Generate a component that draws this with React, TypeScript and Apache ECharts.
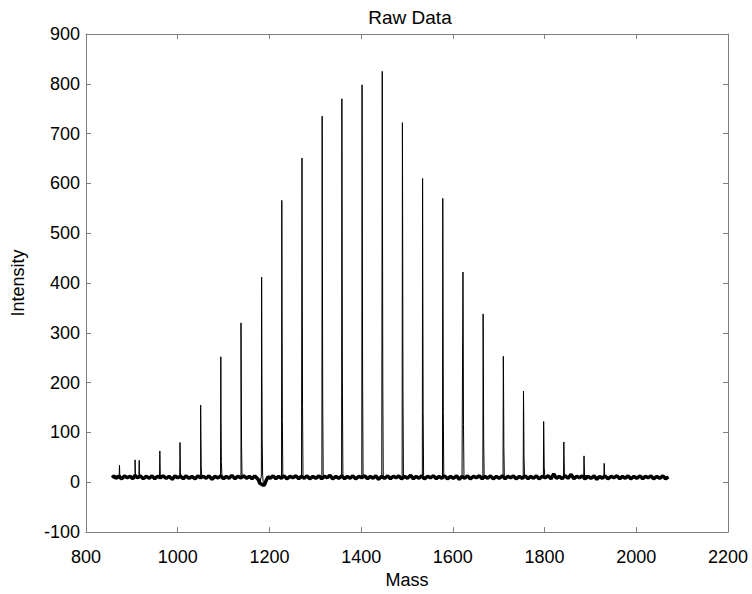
import React, { useEffect, useRef } from "react";
import * as echarts from "echarts";

// Peak centres (Mass) and apex intensities
const peakMass = [873, 907, 916, 961, 1005, 1050, 1094, 1138, 1183, 1227, 1271, 1315, 1358, 1402, 1446, 1490, 1534, 1578, 1622, 1666, 1710, 1754, 1798, 1842, 1886, 1930];
const peakHeight = [34, 45, 44, 63, 80, 155, 252, 320, 412, 566, 651, 735, 770, 798, 825, 722, 610, 570, 422, 338, 253, 183, 122, 81, 53, 38];
// secondary (isotope) apex just to the right of each main spike
const peakShoulder = [20, 25, 24, 40, 50, 95, 120, 210, 255, 355, 435, 465, 505, 575, 575, 530, 405, 400, 330, 250, 210, 140, 90, 55, 38, 25];

// Noisy baseline, [mass, intensity]
const baseline: [number, number][] = [
  [857, 9], [861, 13], [865, 8], [870, 12], [878, 7], [884, 13], [890, 9], [896, 12], [902, 7], [907, 14], [912, 9],
  [918, 13], [925, 7], [931, 12], [938, 8], [944, 13], [950, 7], [956, 12], [962, 9], [968, 13], [975, 8], [981, 12],
  [988, 6], [994, 13], [1000, 9], [1006, 12], [1012, 7], [1018, 13], [1025, 8], [1031, 12], [1038, 7], [1044, 13],
  [1050, 9], [1056, 12], [1062, 8], [1068, 13], [1075, 6], [1081, 12], [1088, 9], [1094, 13], [1100, 7], [1106, 12],
  [1112, 8], [1118, 14], [1125, 7], [1131, 12], [1138, 9], [1144, 13], [1150, 8], [1156, 12], [1162, 7], [1168, 13],
  [1173, 8], [1176, 5], [1179, -2], [1187, -6], [1190, -4], [1193, 4], [1197, 11], [1202, 8], [1208, 13], [1214, 7],
  [1220, 12], [1226, 8], [1232, 13], [1238, 7], [1245, 12], [1251, 9], [1258, 13], [1264, 7], [1270, 12], [1276, 8],
  [1282, 13], [1288, 7], [1295, 12], [1301, 8], [1308, 13], [1314, 7], [1320, 12], [1326, 9], [1332, 14], [1338, 7],
  [1345, 12], [1351, 8], [1358, 13], [1364, 7], [1370, 12], [1376, 8], [1382, 13], [1388, 7], [1395, 12], [1401, 9],
  [1408, 13], [1414, 7], [1420, 12], [1426, 8], [1432, 13], [1438, 6], [1445, 12], [1451, 8], [1458, 13], [1464, 7],
  [1470, 12], [1476, 9], [1482, 13], [1488, 7], [1495, 12], [1501, 8], [1508, 14], [1514, 7], [1520, 12], [1526, 8],
  [1532, 13], [1538, 7], [1545, 12], [1551, 9], [1558, 13], [1564, 7], [1570, 12], [1576, 8], [1582, 13], [1588, 7],
  [1595, 12], [1601, 8], [1608, 13], [1614, 6], [1620, 12], [1626, 8], [1632, 13], [1638, 7], [1645, 12], [1651, 9],
  [1658, 13], [1664, 7], [1670, 12], [1676, 8], [1682, 13], [1688, 7], [1695, 12], [1701, 8], [1708, 13], [1714, 7],
  [1720, 12], [1726, 9], [1732, 13], [1738, 7], [1745, 12], [1751, 8], [1758, 13], [1764, 7], [1770, 12], [1776, 8],
  [1782, 13], [1788, 7], [1795, 12], [1801, 9], [1808, 13], [1814, 7], [1820, 17], [1826, 8], [1832, 12], [1838, 7],
  [1845, 13], [1851, 8], [1858, 16], [1864, 7], [1870, 12], [1876, 9], [1882, 13], [1888, 7], [1895, 12], [1901, 8],
  [1908, 13], [1914, 6], [1920, 12], [1926, 8], [1932, 13], [1938, 7], [1945, 12], [1951, 9], [1958, 13], [1964, 7],
  [1970, 12], [1976, 8], [1982, 13], [1988, 7], [1995, 12], [2001, 8], [2008, 13], [2014, 7], [2020, 12], [2026, 9],
  [2032, 13], [2038, 7], [2045, 12], [2051, 8], [2058, 13], [2064, 7], [2070, 11],
];

const xTicks = { min: 800, max: 2200, interval: 200 };
const yTicks = { min: -100, max: 900, interval: 100 };

export default function App() {
  const ref = useRef<HTMLDivElement>(null);
  useEffect(() => {
    if (!ref.current) return;
    const chart = echarts.init(ref.current, undefined, { renderer: "svg" });

    const pts: [number, number][] = [...baseline];
    peakMass.forEach((m, i) => {
      const h = peakHeight[i];
      const s = peakShoulder[i];
      pts.push([m - 0.6, 12]);
      pts.push([m, h]);
      pts.push([m + 0.5, s]);
      pts.push([m + 1.2, s * 0.35]);
      pts.push([m + 2.2, 14]);
    });
    pts.sort((a, b) => a[0] - b[0]);

    const font = "'Liberation Sans', Arial, Helvetica, sans-serif";
    const axisGrey = "#7f7f7f";
    const plain = (v: number) => String(v);

    chart.setOption({
      animation: false,
      backgroundColor: "#ffffff",
      title: {
        text: "Raw Data",
        left: 405,
        textAlign: "center",
        top: 3,
        textStyle: { fontFamily: font, fontSize: 19, fontWeight: "normal", color: "#000" },
      },
      grid: { left: 86, right: 24, top: 34, bottom: 53, containLabel: false },
      xAxis: [
        {
          type: "value",
          ...xTicks,
          name: "Mass",
          nameLocation: "middle",
          nameGap: 36,
          nameTextStyle: { fontFamily: font, fontSize: 18, color: "#000" },
          axisLine: { show: true, onZero: false, lineStyle: { color: axisGrey, width: 1 } },
          axisTick: { show: true, inside: true, length: 5, lineStyle: { color: axisGrey } },
          axisLabel: { fontFamily: font, fontSize: 18, color: "#000", margin: 16, formatter: plain },
          splitLine: { show: false },
        },
        {
          type: "value",
          position: "top",
          ...xTicks,
          axisLine: { show: true, onZero: false, lineStyle: { color: axisGrey, width: 1 } },
          axisTick: { show: true, inside: true, length: 5, lineStyle: { color: axisGrey } },
          axisLabel: { show: false },
          splitLine: { show: false },
        },
      ],
      yAxis: [
        {
          type: "value",
          ...yTicks,
          name: "Intensity",
          nameLocation: "middle",
          nameGap: 59,
          nameRotate: 90,
          nameTextStyle: { fontFamily: font, fontSize: 18, color: "#000" },
          axisLine: { show: true, onZero: false, lineStyle: { color: axisGrey, width: 1 } },
          axisTick: { show: true, inside: true, length: 5, lineStyle: { color: axisGrey } },
          axisLabel: { fontFamily: font, fontSize: 18, color: "#000", margin: 6, formatter: plain },
          splitLine: { show: false },
        },
        {
          type: "value",
          position: "right",
          ...yTicks,
          axisLine: { show: true, onZero: false, lineStyle: { color: axisGrey, width: 1 } },
          axisTick: { show: true, inside: true, length: 5, lineStyle: { color: axisGrey } },
          axisLabel: { show: false },
          splitLine: { show: false },
        },
      ],
      series: [
        {
          type: "line",
          data: baseline,
          showSymbol: false,
          symbol: "none",
          lineStyle: { color: "#000", width: 3.5 },
          silent: true,
        },
        {
          type: "line",
          data: pts,
          showSymbol: false,
          symbol: "none",
          lineStyle: { color: "#000", width: 1 },
          silent: true,
        },
      ],
    });
    return () => chart.dispose();
  }, []);
  return <div ref={ref} style={{ position: "fixed", left: 0, top: 0, width: 752, height: 594 }} />;
}
